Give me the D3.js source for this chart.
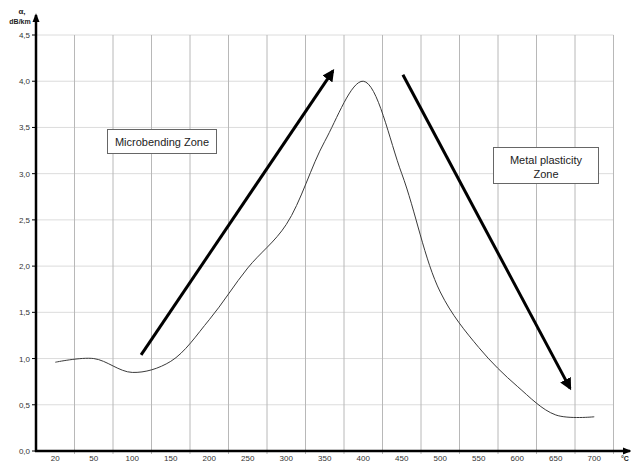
<!DOCTYPE html>
<html>
<head>
<meta charset="utf-8">
<script src="https://cdn.jsdelivr.net/npm/d3@7"></script>
<style>
  body { margin: 0; background: #fff; }
  svg { display: block; font-family: "Liberation Sans", Arial, sans-serif; }
</style>
</head>
<body>
<svg id="chart"></svg>
<script>
// data
var categories = ["20", "50", "100", "150", "200", "250", "300", "350", "400", "450", "500", "550", "600", "650", "700"];
var attenuation = [0.96, 1.0, 0.85, 0.97, 1.42, 1.98, 2.45, 3.35, 4.0, 3.0, 1.72, 1.12, 0.7, 0.39, 0.37];
var yTicks = [0, 0.5, 1, 1.5, 2, 2.5, 3, 3.5, 4, 4.5];

// annotation arrows, in (category position, value) units
var arrows = [
  [[2.73, 1.04], [7.71, 4.11]],
  [[9.53, 4.07], [13.87, 0.68]]
];

var width = 631;
var height = 464;
var padLeft = 36;
var padRight = 613.5;
var padTop = 35;
var padBottom = 451;

var svg = d3.select("#chart");
svg.attr("width", width);
svg.attr("height", height);

var x = d3.scaleLinear().domain([0, categories.length]).range([padLeft, padRight]);
var y = d3.scaleLinear().domain([0, 4.5]).range([padBottom, padTop]);

var defs = svg.append("defs");

// arrow head markers
defs.append("marker")
  .attr("id", "head")
  .attr("viewBox", "0 0 10 10")
  .attr("refX", 8)
  .attr("refY", 5)
  .attr("markerWidth", 4)
  .attr("markerHeight", 4)
  .attr("orient", "auto")
  .append("path")
  .attr("d", "M0,0 L10,5 L0,10 z")
  .attr("fill", "#000");

defs.append("marker")
  .attr("id", "axishead")
  .attr("viewBox", "0 0 10 10")
  .attr("refX", 8)
  .attr("refY", 5)
  .attr("markerWidth", 3.5)
  .attr("markerHeight", 3.5)
  .attr("orient", "auto")
  .append("path")
  .attr("d", "M0,1 L10,5 L0,9 z")
  .attr("fill", "#000");

// horizontal grid
for (var i = 0; i < yTicks.length; i++) {
  if (yTicks[i] === 0) continue;
  svg.append("line")
    .attr("x1", padLeft).attr("x2", padRight)
    .attr("y1", y(yTicks[i])).attr("y2", y(yTicks[i]))
    .attr("stroke", "#dcdcdc")
    .attr("stroke-width", 1);
}

// vertical grid
for (var i = 1; i <= categories.length; i++) {
  svg.append("line")
    .attr("x1", x(i)).attr("x2", x(i))
    .attr("y1", padTop).attr("y2", padBottom + 3)
    .attr("stroke", "#b8b8b8")
    .attr("stroke-width", 1);
}

// y axis ticks and labels
for (var i = 0; i < yTicks.length; i++) {
  svg.append("line")
    .attr("x1", padLeft - 4).attr("x2", padLeft)
    .attr("y1", y(yTicks[i])).attr("y2", y(yTicks[i]))
    .attr("stroke", "#000");
  svg.append("text")
    .attr("x", padLeft - 6)
    .attr("y", y(yTicks[i]) + 3)
    .attr("text-anchor", "end")
    .attr("font-size", "8px")
    .attr("fill", "#333")
    .text(d3.format(".1f")(yTicks[i]).replace(".", ","));
}

// x axis labels (category centres)
for (var i = 0; i < categories.length; i++) {
  svg.append("text")
    .attr("x", x(i + 0.5))
    .attr("y", 461)
    .attr("text-anchor", "middle")
    .attr("font-size", "8px")
    .attr("fill", "#333")
    .text(categories[i]);
}

// axes
svg.append("line")
  .attr("x1", padLeft).attr("x2", padLeft)
  .attr("y1", padBottom + 1).attr("y2", 15)
  .attr("stroke", "#000")
  .attr("stroke-width", 2.5)
  .attr("marker-end", "url(#axishead)");

svg.append("line")
  .attr("x1", padLeft - 1).attr("x2", 630)
  .attr("y1", padBottom).attr("y2", padBottom)
  .attr("stroke", "#000")
  .attr("stroke-width", 2.5)
  .attr("marker-end", "url(#axishead)");

// axis titles
svg.append("text")
  .attr("x", 22).attr("y", 14)
  .attr("text-anchor", "middle")
  .attr("font-size", "8px")
  .attr("font-weight", "bold")
  .attr("fill", "#222")
  .text("α,");
svg.append("text")
  .attr("x", 20).attr("y", 24)
  .attr("text-anchor", "middle")
  .attr("font-size", "7px")
  .attr("font-weight", "bold")
  .attr("fill", "#222")
  .text("dB/km");
svg.append("text")
  .attr("x", 621).attr("y", 461)
  .attr("font-size", "7px")
  .attr("font-weight", "bold")
  .attr("fill", "#222")
  .text("°C");

// curve
var points = [];
for (var i = 0; i < attenuation.length; i++) {
  points.push([x(i + 0.5), y(attenuation[i])]);
}
svg.append("path")
  .attr("d", d3.line().curve(d3.curveCatmullRom.alpha(0.5))(points))
  .attr("fill", "none")
  .attr("stroke", "#3a3a3a")
  .attr("stroke-width", 1);

// arrows
for (var i = 0; i < arrows.length; i++) {
  var a = arrows[i];
  svg.append("line")
    .attr("x1", x(a[0][0])).attr("y1", y(a[0][1]))
    .attr("x2", x(a[1][0])).attr("y2", y(a[1][1]))
    .attr("stroke", "#000")
    .attr("stroke-width", 3)
    .attr("marker-end", "url(#head)");
}

// text boxes
function box(bx, by, bw, bh, lines) {
  svg.append("rect")
    .attr("x", bx).attr("y", by)
    .attr("width", bw).attr("height", bh)
    .attr("fill", "#fff")
    .attr("stroke", "#666")
    .attr("stroke-width", 1);
  for (var j = 0; j < lines.length; j++) {
    svg.append("text")
      .attr("x", bx + bw / 2)
      .attr("y", by + 16 + j * 14)
      .attr("text-anchor", "middle")
      .attr("font-size", "11px")
      .attr("fill", "#222")
      .text(lines[j]);
  }
}
box(107.5, 129.5, 109, 24, ["Microbending Zone"]);
box(493.5, 147.5, 105, 36, ["Metal plasticity", "Zone"]);
</script>
</body>
</html>
